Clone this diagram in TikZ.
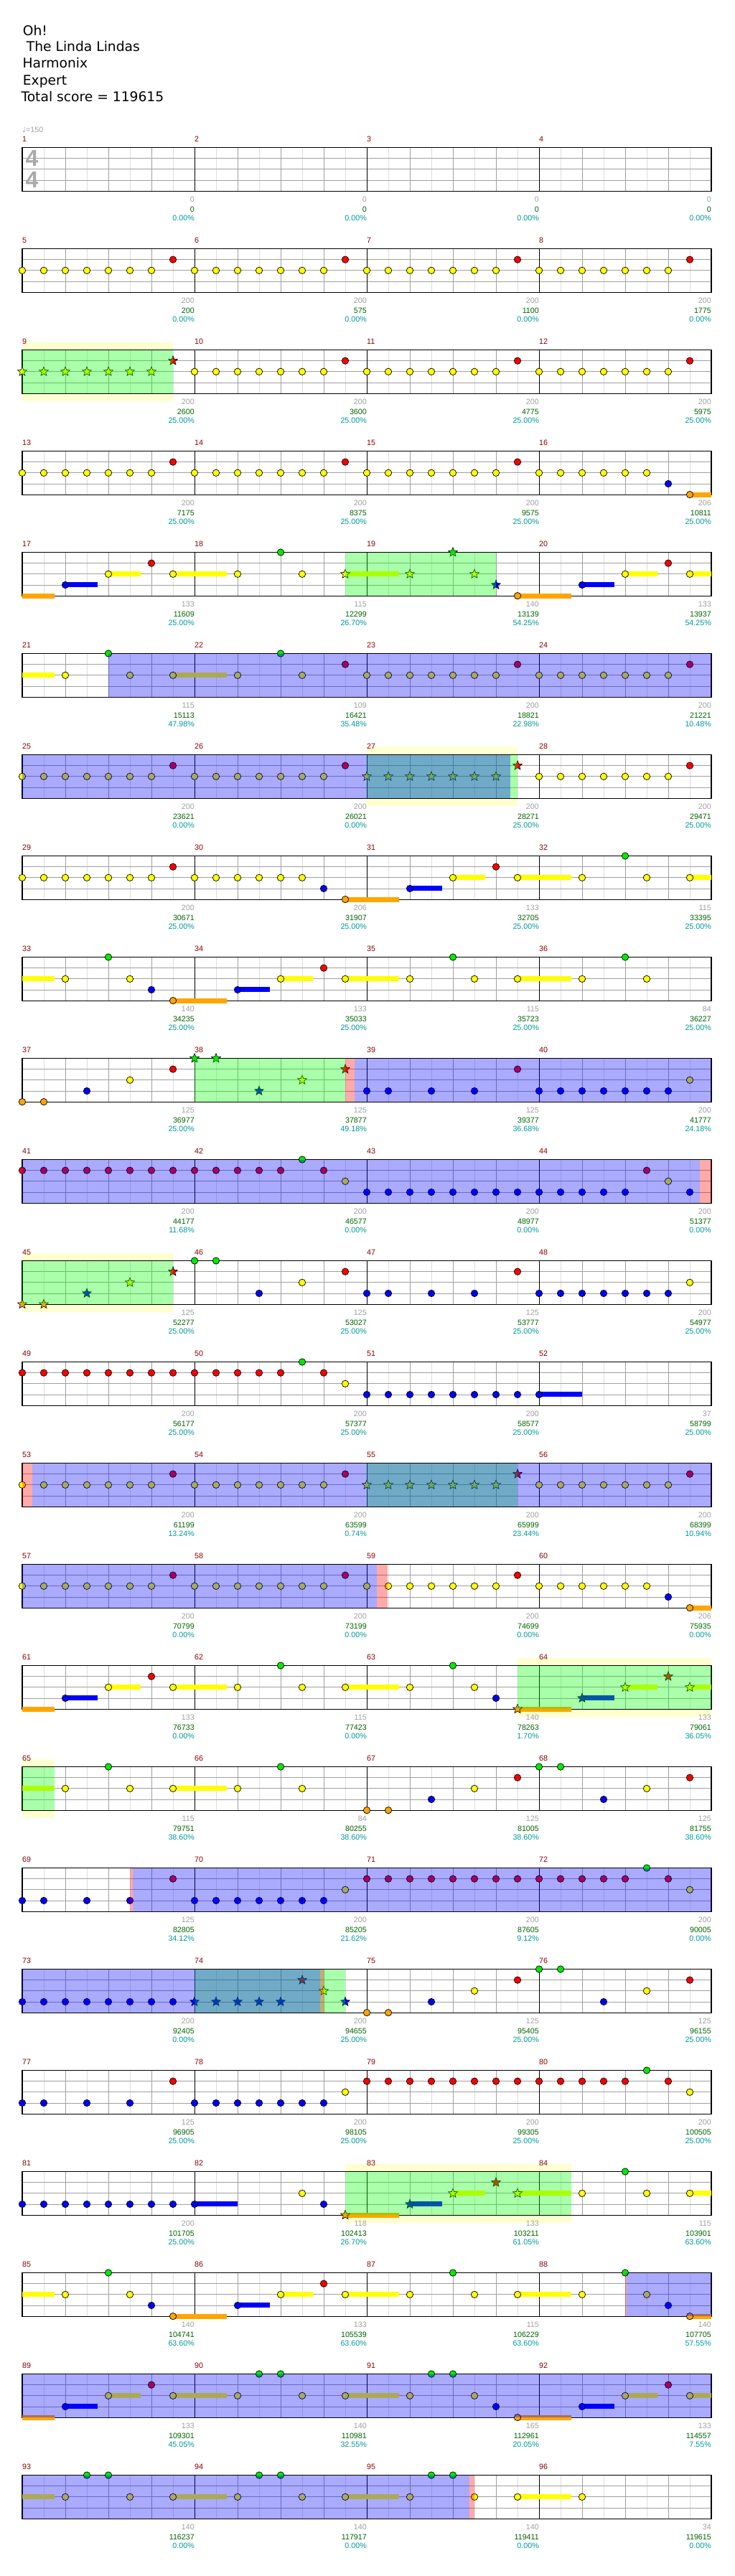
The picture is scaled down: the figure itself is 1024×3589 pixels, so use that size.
\documentclass[tikz,border=0pt]{standalone}
\usepackage{fontspec}
\setmainfont{Liberation Sans}
\newfontfamily\djv{DejaVu Sans}
\usetikzlibrary{shapes.geometric}
\definecolor{lc0}{RGB}{0,235,0}
\definecolor{lc1}{RGB}{255,0,0}
\definecolor{lc2}{RGB}{255,255,0}
\definecolor{lc3}{RGB}{0,0,255}
\definecolor{lc4}{RGB}{255,165,0}
\definecolor{ceighth}{RGB}{222,222,222}
\definecolor{cbeat}{RGB}{160,160,160}
\definecolor{mnum}{RGB}{140,0,0}
\definecolor{tgray}{RGB}{160,160,160}
\definecolor{tgreen}{RGB}{0,100,0}
\definecolor{tcyan}{RGB}{0,153,153}
\definecolor{band}{RGB}{255,255,208}
\definecolor{sig}{RGB}{170,170,170}
\newcommand\nN[2]{\foreach \p in {#2}{\filldraw[fill=lc#1,draw=black,line width=0.7pt] (\p,#1) circle (4.7pt);}}
\newcommand\nS[2]{\foreach \p in {#2}{\node[spstar,fill=lc#1] at (\p,#1) {};}}
\newcommand\nSu[3]{\draw[line width=7pt,lc#1] (#2,#1) -- (#3,#1);}
\newcommand\oG[2]{\fill[green,opacity=0.333] (#1,0) rectangle (#2,4);}
\newcommand\oB[2]{\fill[blue,opacity=0.333] (#1,0) rectangle (#2,4);}
\newcommand\oP[2]{\fill[red,opacity=0.333] (#1,0) rectangle (#2,4);}
\newcommand\oY[2]{\fill[band] (#1,-0.69) rectangle (#2,4.69);}
\newcommand\sTaff{%
 \fill[white] (0,0) rectangle (32,4);
 \foreach \i in {1,3,...,31} \draw[ceighth,line width=0.8pt] (\i,0) -- (\i,4);
 \foreach \i in {2,4,6,10,12,14,18,20,22,26,28,30} \draw[cbeat,line width=0.8pt] (\i,0) -- (\i,4);
 \foreach \i in {1,2,3} \draw[cbeat,line width=0.8pt] (0,\i) -- (32,\i);
 \foreach \i in {8,16,24} \draw[black,line width=0.8pt] (\i,0) -- (\i,4);
 \draw[black,line width=1.2pt] (0,0) rectangle (32,4);}
\newcommand\mT[5]{%
 \node[txt,text=mnum,anchor=west] at ({8*#1},-0.75) {#2};
 \node[txt,text=tgray,anchor=east] at ({8*#1+8},4.8) {#3};
 \node[txt,text=tgreen,anchor=east] at ({8*#1+8},5.68) {#4};
 \node[txt,text=tcyan,anchor=east] at ({8*#1+8},6.51) {#5};}
\begin{document}
\begin{tikzpicture}[x=1pt,y=-1pt,
 txt/.style={inner sep=0pt,font=\fontsize{10.7}{12}\selectfont},
 spstar/.style={star,star points=5,star point ratio=2.3,minimum size=13.5pt,inner sep=0pt,draw=black,line width=0.6pt},
 row/.style={shift={(31pt,{-(205.5+141*#1)*1pt})},x=30pt,y=-15.15pt}]
\useasboundingbox (0,0) rectangle (1024,3589);
\fill[white] (0,0) rectangle (1024,3589);
\begin{scope}[every node/.style={anchor=base west,inner sep=0pt,font=\djv\fontsize{18.7}{20}\selectfont}]
\node (t1) at (31.7,49.3) {Oh!};
\node (t2) at (31.7,71.7) {\hspace*{5pt}The Linda Lindas};
\node (t3) at (31.3,95) {Harmonix};
\node (t4) at (31.7,118.3) {Expert};
\node (t5) at (29.3,141.3) {Total score = 119615};
\end{scope}
\node[txt,anchor=west,text=tgray] (tempo) at (31,181) {{\djv ♩}=150};
% row 0
\begin{scope}[row=0]
\sTaff
\node[inner sep=0pt,font=\fontsize{32}{32}\selectfont\bfseries,text=sig] at (0.45,1) {4};
\node[inner sep=0pt,font=\fontsize{32}{32}\selectfont\bfseries,text=sig] at (0.45,3) {4};
\mT{0}{1}{0}{0}{0.00\%}\mT{1}{2}{0}{0}{0.00\%}\mT{2}{3}{0}{0}{0.00\%}\mT{3}{4}{0}{0}{0.00\%}
\end{scope}
% row 1
\begin{scope}[row=1]
\sTaff
\nN{2}{0,...,6}\nN{2}{8,...,14}\nN{2}{16,...,22}\nN{2}{24,...,30}\nN{1}{7,15,23,31}
\mT{0}{5}{200}{200}{0.00\%}\mT{1}{6}{200}{575}{0.00\%}\mT{2}{7}{200}{1100}{0.00\%}\mT{3}{8}{200}{1775}{0.00\%}
\end{scope}
% row 2
\begin{scope}[row=2]
\oY{0}{7}\sTaff
\nS{2}{0,...,6}\nS{1}{7}\nN{2}{8,...,14}\nN{2}{16,...,22}\nN{2}{24,...,30}\nN{1}{15,23,31}
\oG{0}{7}
\mT{0}{9}{200}{2600}{25.00\%}\mT{1}{10}{200}{3600}{25.00\%}\mT{2}{11}{200}{4775}{25.00\%}\mT{3}{12}{200}{5975}{25.00\%}
\end{scope}
% row 3
\begin{scope}[row=3]
\sTaff
\nSu{4}{31}{32}
\nN{2}{0,...,6}\nN{2}{8,...,14}\nN{2}{16,...,22}\nN{2}{24,...,29}\nN{1}{7,15,23}\nN{3}{30}\nN{4}{31}
\mT{0}{13}{200}{7175}{25.00\%}\mT{1}{14}{200}{8375}{25.00\%}\mT{2}{15}{200}{9575}{25.00\%}\mT{3}{16}{206}{10811}{25.00\%}
\end{scope}
% row 4
\begin{scope}[row=4]
\sTaff
\nSu{4}{0}{1.5}\nSu{3}{2}{3.5}\nSu{2}{4}{5.5}\nSu{2}{7}{9.5}\nSu{2}{15}{17.5}\nSu{4}{23}{25.5}\nSu{3}{26}{27.5}\nSu{2}{28}{29.5}\nSu{2}{31}{32}
\nN{3}{2,26}\nN{2}{4,7,10,13,28,31}\nN{1}{6,30}\nN{0}{12}\nN{4}{23}
\nS{2}{15,18,21}\nS{0}{20}\nS{3}{22}
\oG{15}{22}
\mT{0}{17}{133}{11609}{25.00\%}\mT{1}{18}{115}{12299}{26.70\%}\mT{2}{19}{140}{13139}{54.25\%}\mT{3}{20}{133}{13937}{54.25\%}
\end{scope}
% row 5
\begin{scope}[row=5]
\sTaff
\nSu{2}{0}{1.5}\nSu{2}{7}{9.5}
\nN{2}{2,5,7,10,13}\nN{0}{4,12}\nN{1}{15,23,31}\nN{2}{16,...,22}\nN{2}{24,...,30}
\oB{4}{32}
\mT{0}{21}{115}{15113}{47.98\%}\mT{1}{22}{109}{16421}{35.48\%}\mT{2}{23}{200}{18821}{22.98\%}\mT{3}{24}{200}{21221}{10.48\%}
\end{scope}
% row 6
\begin{scope}[row=6]
\oY{16}{23}\sTaff
\nN{2}{0,...,6}\nN{2}{8,...,14}\nN{2}{24,...,30}\nN{1}{7,15,31}\nS{2}{16,...,22}\nS{1}{23}
\oG{16}{23}\oB{0}{22.67}
\mT{0}{25}{200}{23621}{0.00\%}\mT{1}{26}{200}{26021}{0.00\%}\mT{2}{27}{200}{28271}{25.00\%}\mT{3}{28}{200}{29471}{25.00\%}
\end{scope}
% row 7
\begin{scope}[row=7]
\sTaff
\nSu{4}{15}{17.5}\nSu{3}{18}{19.5}\nSu{2}{20}{21.5}\nSu{2}{23}{25.5}\nSu{2}{31}{32}
\nN{2}{0,...,6}\nN{2}{8,...,13}\nN{1}{7,22}\nN{3}{14,18}\nN{4}{15}\nN{2}{20,23,26,29,31}\nN{0}{28}
\mT{0}{29}{200}{30671}{25.00\%}\mT{1}{30}{206}{31907}{25.00\%}\mT{2}{31}{133}{32705}{25.00\%}\mT{3}{32}{115}{33395}{25.00\%}
\end{scope}
% row 8
\begin{scope}[row=8]
\sTaff
\nSu{2}{0}{1.5}\nSu{4}{7}{9.5}\nSu{3}{10}{11.5}\nSu{2}{12}{13.5}\nSu{2}{15}{17.5}\nSu{2}{23}{25.5}
\nN{2}{2,5,12,15,18,21,23,26,29}\nN{0}{4,20,28}\nN{3}{6,10}\nN{4}{7}\nN{1}{14}
\mT{0}{33}{140}{34235}{25.00\%}\mT{1}{34}{133}{35033}{25.00\%}\mT{2}{35}{115}{35723}{25.00\%}\mT{3}{36}{84}{36227}{25.00\%}
\end{scope}
% row 9
\begin{scope}[row=9]
\sTaff
\nN{4}{0,1}\nN{3}{3,16,17,19,21}\nN{2}{5,31}\nN{1}{7,23}\nN{3}{24,...,30}
\nS{0}{8,9}\nS{3}{11}\nS{2}{13}\nS{1}{15}
\oG{8}{15}\oP{15}{15.43}\oB{15.43}{32}
\mT{0}{37}{125}{36977}{25.00\%}\mT{1}{38}{125}{37877}{49.18\%}\mT{2}{39}{125}{39377}{36.68\%}\mT{3}{40}{200}{41777}{24.18\%}
\end{scope}
% row 10
\begin{scope}[row=10]
\sTaff
\nN{1}{0,...,12}\nN{0}{13}\nN{1}{14}\nN{2}{15}\nN{3}{16,...,28}\nN{1}{29}\nN{2}{30}\nN{3}{31}
\oB{0}{31.46}\oP{31.46}{32}
\mT{0}{41}{200}{44177}{11.68\%}\mT{1}{42}{200}{46577}{0.00\%}\mT{2}{43}{200}{48977}{0.00\%}\mT{3}{44}{200}{51377}{0.00\%}
\end{scope}
% row 11
\begin{scope}[row=11]
\oY{0}{7}\sTaff
\nS{4}{0,1}\nS{3}{3}\nS{2}{5}\nS{1}{7}
\nN{0}{8,9}\nN{3}{11,16,17,19,21}\nN{2}{13,31}\nN{1}{15,23}\nN{3}{24,...,30}
\oG{0}{7}
\mT{0}{45}{125}{52277}{25.00\%}\mT{1}{46}{125}{53027}{25.00\%}\mT{2}{47}{125}{53777}{25.00\%}\mT{3}{48}{200}{54977}{25.00\%}
\end{scope}
% row 12
\begin{scope}[row=12]
\sTaff
\nSu{3}{24}{26}
\nN{1}{0,...,12}\nN{0}{13}\nN{1}{14}\nN{2}{15}\nN{3}{16,...,24}
\mT{0}{49}{200}{56177}{25.00\%}\mT{1}{50}{200}{57377}{25.00\%}\mT{2}{51}{200}{58577}{25.00\%}\mT{3}{52}{37}{58799}{25.00\%}
\end{scope}
% row 13
\begin{scope}[row=13]
\sTaff
\nN{2}{0,...,6}\nN{2}{8,...,14}\nN{2}{24,...,30}\nN{1}{7,15,31}\nS{2}{16,...,22}\nS{1}{23}
\oG{16}{23}\oP{0}{0.48}\oB{0.48}{32}
\mT{0}{53}{200}{61199}{13.24\%}\mT{1}{54}{200}{63599}{0.74\%}\mT{2}{55}{200}{65999}{23.44\%}\mT{3}{56}{200}{68399}{10.94\%}
\end{scope}
% row 14
\begin{scope}[row=14]
\sTaff
\nSu{4}{31}{32}
\nN{2}{0,...,6}\nN{2}{8,...,14}\nN{2}{16,...,22}\nN{2}{24,...,29}\nN{1}{7,15,23}\nN{3}{30}\nN{4}{31}
\oB{0}{16.46}\oP{16.46}{16.98}
\mT{0}{57}{200}{70799}{0.00\%}\mT{1}{58}{200}{73199}{0.00\%}\mT{2}{59}{200}{74699}{0.00\%}\mT{3}{60}{206}{75935}{0.00\%}
\end{scope}
% row 15
\begin{scope}[row=15]
\oY{23}{32}\sTaff
\nSu{4}{0}{1.5}\nSu{3}{2}{3.5}\nSu{2}{4}{5.5}\nSu{2}{7}{9.5}\nSu{2}{15}{17.5}\nSu{4}{23}{25.5}\nSu{3}{26}{27.5}\nSu{2}{28}{29.5}\nSu{2}{31}{32}
\nN{3}{2,22}\nN{2}{4,7,10,13,15,18,21}\nN{1}{6}\nN{0}{12,20}
\nS{4}{23}\nS{3}{26}\nS{2}{28,31}\nS{1}{30}
\oG{23}{32}
\mT{0}{61}{133}{76733}{0.00\%}\mT{1}{62}{115}{77423}{0.00\%}\mT{2}{63}{140}{78263}{1.70\%}\mT{3}{64}{133}{79061}{36.05\%}
\end{scope}
% row 16
\begin{scope}[row=16]
\oY{0}{1.5}\sTaff
\nSu{2}{0}{1.5}\nSu{2}{7}{9.5}
\nN{2}{2,5,7,10,13,21,29}\nN{0}{4,12,24,25}\nN{4}{16,17}\nN{3}{19,27}\nN{1}{23,31}
\oG{0}{1.5}
\mT{0}{65}{115}{79751}{38.60\%}\mT{1}{66}{84}{80255}{38.60\%}\mT{2}{67}{125}{81005}{38.60\%}\mT{3}{68}{125}{81755}{38.60\%}
\end{scope}
% row 17
\begin{scope}[row=17]
\sTaff
\nN{3}{0,1,3,5}\nN{1}{7}\nN{3}{8,...,14}\nN{2}{15,31}\nN{1}{16,...,28}\nN{0}{29}\nN{1}{30}
\oP{5}{5.12}\oB{5.12}{32}
\mT{0}{69}{125}{82805}{34.12\%}\mT{1}{70}{200}{85205}{21.62\%}\mT{2}{71}{200}{87605}{9.12\%}\mT{3}{72}{200}{90005}{0.00\%}
\end{scope}
% row 18
\begin{scope}[row=18]
\sTaff
\nN{3}{0,...,7}\nS{3}{8,...,12}\nS{1}{13}\nS{2}{14}\nS{3}{15}
\nN{4}{16,17}\nN{3}{19,27}\nN{2}{21,29}\nN{1}{23,31}\nN{0}{24,25}
\oG{8}{15}\oB{0}{13.83}\oP{13.83}{14}
\mT{0}{73}{200}{92405}{0.00\%}\mT{1}{74}{200}{94655}{25.00\%}\mT{2}{75}{125}{95405}{25.00\%}\mT{3}{76}{125}{96155}{25.00\%}
\end{scope}
% row 19
\begin{scope}[row=19]
\sTaff
\nN{3}{0,1,3,5}\nN{1}{7}\nN{3}{8,...,14}\nN{2}{15,31}\nN{1}{16,...,28}\nN{0}{29}\nN{1}{30}
\mT{0}{77}{125}{96905}{25.00\%}\mT{1}{78}{200}{98105}{25.00\%}\mT{2}{79}{200}{99305}{25.00\%}\mT{3}{80}{200}{100505}{25.00\%}
\end{scope}
% row 20
\begin{scope}[row=20]
\oY{15}{25.5}\sTaff
\nSu{3}{8}{10}\nSu{4}{15}{17.5}\nSu{3}{18}{19.5}\nSu{2}{20}{21.5}\nSu{2}{23}{25.5}\nSu{2}{31}{32}
\nN{3}{0,...,8}\nN{2}{13,26,29,31}\nN{3}{14}\nN{0}{28}
\nS{4}{15}\nS{3}{18}\nS{2}{20,23}\nS{1}{22}
\oG{15}{25.5}
\mT{0}{81}{200}{101705}{25.00\%}\mT{1}{82}{118}{102413}{26.70\%}\mT{2}{83}{133}{103211}{61.05\%}\mT{3}{84}{115}{103901}{63.60\%}
\end{scope}
% row 21
\begin{scope}[row=21]
\sTaff
\nSu{2}{0}{1.5}\nSu{4}{7}{9.5}\nSu{3}{10}{11.5}\nSu{2}{12}{13.5}\nSu{2}{15}{17.5}\nSu{2}{23}{25.5}\nSu{4}{31}{32}
\nN{2}{2,5,12,15,18,21,23,26,29}\nN{0}{4,20,28}\nN{3}{6,10,30}\nN{4}{7,31}\nN{1}{14}
\oP{28}{28.08}\oB{28.08}{32}
\mT{0}{85}{140}{104741}{63.60\%}\mT{1}{86}{133}{105539}{63.60\%}\mT{2}{87}{115}{106229}{63.60\%}\mT{3}{88}{140}{107705}{57.55\%}
\end{scope}
% row 22
\begin{scope}[row=22]
\sTaff
\nSu{4}{0}{1.5}\nSu{3}{2}{3.5}\nSu{2}{4}{5.5}\nSu{2}{7}{9.5}\nSu{2}{15}{17.5}\nSu{4}{23}{25.5}\nSu{3}{26}{27.5}\nSu{2}{28}{29.5}\nSu{2}{31}{32}
\nN{3}{2,22,26}\nN{2}{4,7,10,13,15,18,21,28,31}\nN{1}{6,30}\nN{0}{11,12,19,20}\nN{4}{23}
\oB{0}{32}
\mT{0}{89}{133}{109301}{45.05\%}\mT{1}{90}{140}{110981}{32.55\%}\mT{2}{91}{165}{112961}{20.05\%}\mT{3}{92}{133}{114557}{7.55\%}
\end{scope}
% row 23
\begin{scope}[row=23]
\sTaff
\nSu{2}{0}{1.5}\nSu{2}{7}{9.5}\nSu{2}{15}{17.5}\nSu{2}{23}{25.5}
\nN{2}{2,5,7,10,13,15,18,21,23,26}\nN{0}{3,4,11,12,19,20}
\oB{0}{20.78}\oP{20.78}{21}
\mT{0}{93}{140}{116237}{0.00\%}\mT{1}{94}{140}{117917}{0.00\%}\mT{2}{95}{140}{119411}{0.00\%}\mT{3}{96}{34}{119615}{0.00\%}
\end{scope}
\end{tikzpicture}
\end{document}
